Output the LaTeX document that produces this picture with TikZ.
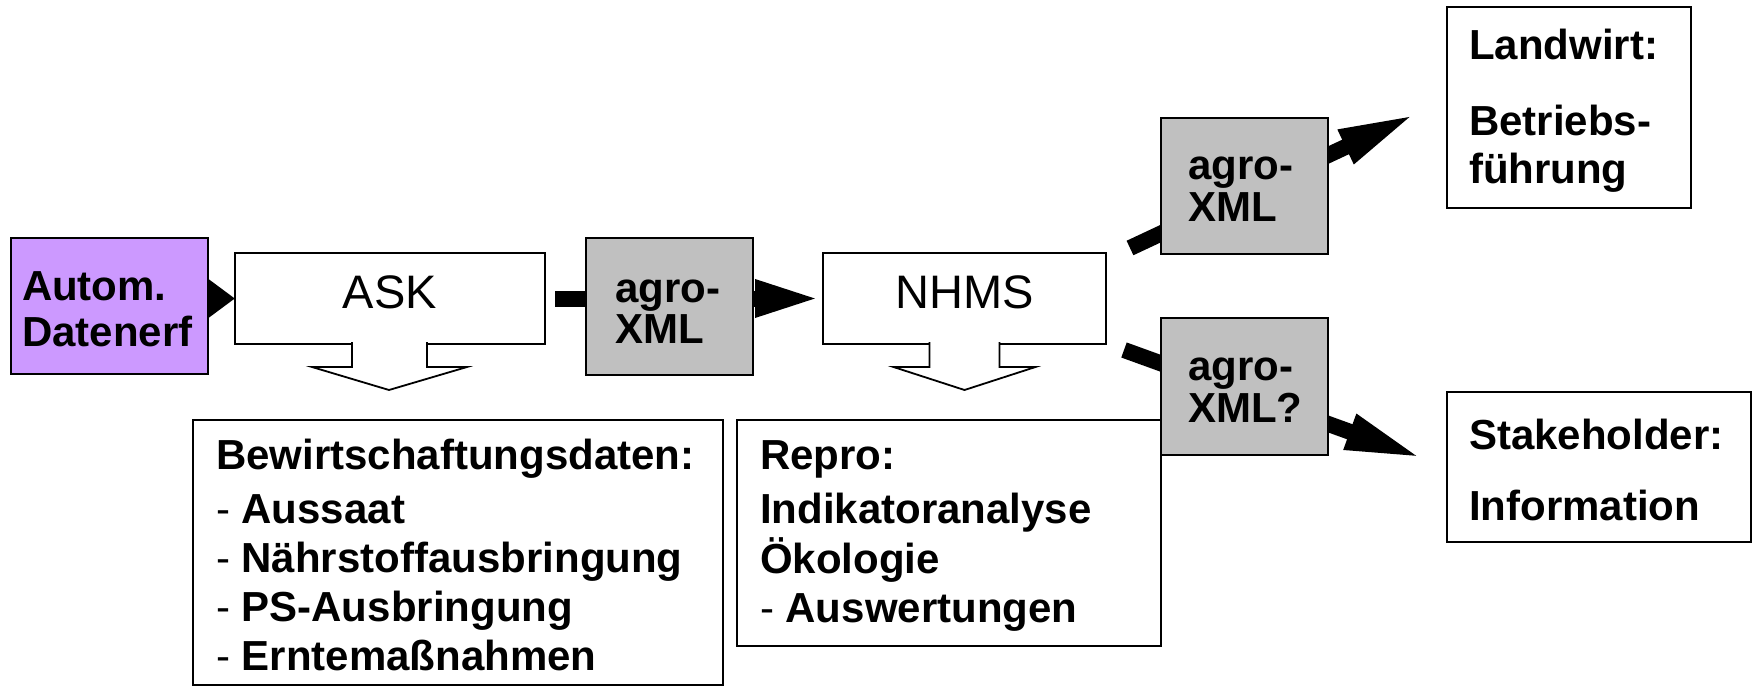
\documentclass[tikz,border=0pt]{standalone}
\usepackage{fontspec}
\setmainfont{Liberation Sans}
\usetikzlibrary{arrows.meta,calc,backgrounds}
\definecolor{lila}{HTML}{CC99FF}
\definecolor{grau}{HTML}{C0C0C0}
\begin{document}
\begin{tikzpicture}[x=1pt,y=-1pt,
  box/.style={draw=black, line width=1.8pt, rectangle, inner sep=0pt, outer sep=0pt, anchor=north west},
  txt/.style={anchor=base west, inner sep=0pt, outer sep=0pt},
  reg/.style={anchor=base, inner sep=0pt, outer sep=0pt, font=\fontsize{47}{50}\selectfont},
  bigarrow/.style={line width=16pt, -{Triangle[length=68pt,width=33pt]}},
  diagarrow/.style={line width=16pt, -{Triangle[length=80pt,width=33pt]}},
  downarrow/.style={draw=black, line width=1.8pt, fill=white, line join=miter}
]
\useasboundingbox (0,0) rectangle (1753,687);

% boxes
\node[box, fill=lila, minimum width=197pt, minimum height=136pt] (autom) at (11,238) {};
\node[box, fill=white, minimum width=310pt, minimum height=91pt] (ask) at (235,253) {};
\node[box, fill=grau, minimum width=167pt, minimum height=137pt] (agro1) at (586,238) {};
\node[box, fill=white, minimum width=283pt, minimum height=91pt] (nhms) at (823,253) {};
\node[box, fill=white, minimum width=530pt, minimum height=265pt] (bew) at (193,420) {};
\node[box, fill=white, minimum width=424pt, minimum height=226pt] (repro) at (737,420) {};
\node[box, fill=grau, minimum width=167pt, minimum height=136pt] (agro2) at (1161,118) {};
\node[box, fill=grau, minimum width=167pt, minimum height=137pt] (agro3) at (1161,318) {};
\node[box, fill=white, minimum width=244pt, minimum height=201pt] (land) at (1447,7) {};
\node[box, fill=white, minimum width=304pt, minimum height=150pt] (stake) at (1447,392) {};

% free ends of the diagonal arrows
\coordinate (u0) at (1130,248);
\coordinate (u1) at (1418,113);
\coordinate (l0) at (1124,350);
\coordinate (l1) at (1425,459);

% connectors behind the boxes
\begin{scope}[on background layer]
  \draw[line width=16pt, -{Triangle[length=30pt,width=42pt]}] (autom.center |- ask.west) -- (ask.west);
  \draw[bigarrow] ([xshift=10pt]ask.east) -- (nhms.west);
  \draw[diagarrow] (u0) -- (u1);
  \draw[diagarrow] (l0) -- (l1);
\end{scope}

% hollow down arrows below ASK and NHMS
\draw[downarrow] ($(ask.south)+(-38,-2)$) -- ($(ask.south)+(-38,23)$) -- ($(ask.south)+(-78,23)$)
  -- ($(ask.south)+(-1,46)$) -- ($(ask.south)+(77,23)$) -- ($(ask.south)+(37,23)$) -- ($(ask.south)+(37,-2)$);
\draw[downarrow] ($(nhms.south)+(-35,-2)$) -- ($(nhms.south)+(-35,23)$) -- ($(nhms.south)+(-71,23)$)
  -- ($(nhms.south)+(0,46)$) -- ($(nhms.south)+(71,23)$) -- ($(nhms.south)+(35,23)$) -- ($(nhms.south)+(35,-2)$);

% texts
\node[txt, font=\fontsize{42}{46}\selectfont\bfseries] (autom-t) at (22,300)
  {\begin{tabular}[t]{@{}l@{}}Autom.\\Datenerf\end{tabular}};
\node[reg] (ask-t) at (390,308) {ASK};
\node[reg] (nhms-t) at (964.5,308) {NHMS};
\node[txt, font=\fontsize{42}{41}\selectfont\bfseries] (agro1-t) at (615,302)
  {\begin{tabular}[t]{@{}l@{}}agro-\\XML\end{tabular}};
\node[txt, font=\fontsize{42}{42}\selectfont\bfseries] (agro2-t) at (1188,180)
  {\begin{tabular}[t]{@{}l@{}}agro-\\XML\end{tabular}};
\node[txt, font=\fontsize{42}{42}\selectfont\bfseries] (agro3-t) at (1188,380)
  {\begin{tabular}[t]{@{}l@{}}agro-\\XML?\end{tabular}};
\node[txt, font=\fontsize{42}{49}\selectfont\bfseries] (bew-t) at (216,469)
  {\begin{tabular}[t]{@{}l@{}}Bewirtschaftungsdaten:\\[5pt]
   {\mdseries -} Aussaat\\ {\mdseries -} Nährstoffausbringung\\ {\mdseries -} PS-Ausbringung\\ {\mdseries -} Erntemaßnahmen\end{tabular}};
\node[txt, font=\fontsize{42}{49}\selectfont\bfseries] (repro-t) at (760,469)
  {\begin{tabular}[t]{@{}l@{}}Repro:\\[5pt] Indikatoranalyse\\ Ökologie\\ {\mdseries -} Auswertungen\end{tabular}};
\node[txt, font=\fontsize{42}{48}\selectfont\bfseries] (land-t) at (1469,60)
  {\begin{tabular}[t]{@{}l@{}}Landwirt:\\[28pt] Betriebs-\\ führung\end{tabular}};
\node[txt, font=\fontsize{42}{44}\selectfont\bfseries] (stake-t) at (1469,449)
  {\begin{tabular}[t]{@{}l@{}}Stakeholder:\\[27pt] Information\end{tabular}};
\end{tikzpicture}
\end{document}
